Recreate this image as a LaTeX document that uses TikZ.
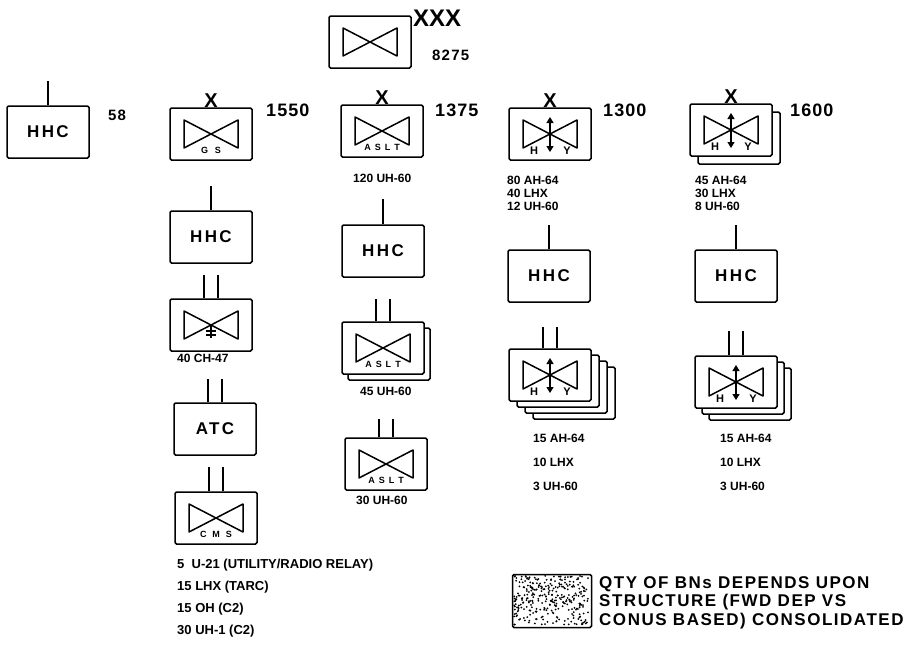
\documentclass[tikz,border=0pt]{standalone}
\usepackage{fontspec}
\setmainfont{Liberation Sans}
\usetikzlibrary{calc,shadows,arrows.meta}

\tikzset{
  unit/.style={draw, line width=1.5pt, rounded corners=1.5pt, fill=white,
    minimum width=82pt, minimum height=52pt, inner sep=0pt,
    font=\bfseries\fontsize{17}{17}\selectfont\addfontfeatures{LetterSpace=14}},
  sheet1/.style={copy shadow={shadow xshift=#1, shadow yshift=-#1, line width=1.5pt}},
  sheet2/.style={copy shadow={shadow xshift=14pt, shadow yshift=-12pt, line width=1.5pt},
    copy shadow={shadow xshift=7pt, shadow yshift=-6pt, line width=1.5pt}},
  sheet3/.style={copy shadow={shadow xshift=24pt, shadow yshift=-18pt, line width=1.5pt},
    copy shadow={shadow xshift=16pt, shadow yshift=-12pt, line width=1.5pt},
    copy shadow={shadow xshift=8pt, shadow yshift=-6pt, line width=1.5pt}},
  link/.style={line width=1.5pt},
  echelon/.style={anchor=south, inner sep=0pt, font=\bfseries\fontsize{20}{20}\selectfont},
  num/.style={anchor=west, inner sep=0pt, font=\bfseries\fontsize{18}{18}\selectfont\addfontfeatures{LetterSpace=6}},
  qty/.style={anchor=north west, inner sep=0pt, align=left, font=\bfseries\fontsize{12}{13}\selectfont},
  letters/.style={inner sep=0pt, font=\bfseries\fontsize{9}{9}\selectfont}
}

% aviation symbol inside a unit box
\newcommand{\avnsym}[1]{%
  \draw[line width=1.5pt, line join=round] ($(#1.center)+(-27,-14)$) -- ($(#1.center)+(27,14)$)
    -- ($(#1.center)+(27,-14)$) -- ($(#1.center)+(-27,14)$) -- cycle;}
% attack symbol
\newcommand{\atksym}[1]{%
  \avnsym{#1}
  \draw[line width=1.3pt, -{Triangle[length=6pt,width=7pt]}] (#1.center) -- ++(0,-17);
  \draw[line width=1.3pt, -{Triangle[length=6pt,width=7pt]}] (#1.center) -- ++(0,18);
  \node[letters, font=\bfseries\fontsize{11}{11}\selectfont] at ($(#1.center)+(-16,17)$) {H};
  \node[letters, font=\bfseries\fontsize{11}{11}\selectfont] at ($(#1.center)+(17,17)$) {Y};}
% twin stub above a unit box
\newcommand{\twin}[2]{%
  \foreach \dx in {-7,7} \draw[link] ($(#1.north)+(\dx,0)$) -- ++(0,-#2);}

\begin{document}
\begin{tikzpicture}[x=1pt,y=-1pt]
    \useasboundingbox (0,0) rectangle (920,645);
    % top: aviation division
    \node[unit] (div) at (370,42) {};
    \avnsym{div}
    \node[num, font=\bfseries\fontsize{24}{24}\selectfont] (divx) at (413,18) {XXX};
    \node[num, font=\bfseries\fontsize{15}{15}\selectfont\addfontfeatures{LetterSpace=8}] (divn) at (432,55) {8275};
    % division HHC
    \node[unit] (hhc) at (48,132) {HHC};
    \draw[link] (hhc.north) -- ++(0,-24);
    \node[num, font=\bfseries\fontsize{15}{15}\selectfont\addfontfeatures{LetterSpace=8}] (hhcn) at (108,115) {58};
    % column 1: general support
    \node[unit] (gs) at (211,134) {};
    \avnsym{gs}
    \node[letters] at ($(gs.center)+(0,16)$) {G\hspace{7pt}S};
    \node[echelon] (gsx) at (gs.north) {X};
    \node[num] (gsn) at (266,110) {1550};
    \node[unit] (hhcgs) at (211,237) {HHC};
    \draw[link] (hhcgs.north) -- ++(0,-24);
    \node[unit] (ch) at (211,325) {};
    \avnsym{ch}
    \draw[line width=1.2pt] (ch.center) -- ++(0,13);
    \draw[line width=1.2pt] ($(ch.center)+(-5,6)$) -- ++(10,0) ($(ch.center)+(-5,10)$) -- ++(10,0);
    \twin{ch}{23}
    \node[qty] (chq) at (177,354) {40 CH-47};
    \node[unit] (atc) at (215,429) {ATC};
    \twin{atc}{23}
    \node[unit] (cms) at (216,518) {};
    \avnsym{cms}
    \node[letters] at ($(cms.center)+(0,16)$) {C\hspace{6pt}M\hspace{6pt}S};
    \twin{cms}{24}
    \node[qty, font=\bfseries\fontsize{13}{22}\selectfont] (cmsq) at (177,559)
      {5 \ U-21 (UTILITY/RADIO RELAY)\\15 LHX (TARC)\\15 OH (C2)\\30 UH-1 (C2)};
    % column 2: assault
    \node[unit] (aslt) at (382,131) {};
    \avnsym{aslt}
    \node[letters] at ($(aslt.center)+(0,16)$) {A\hspace{4pt}S\hspace{4pt}L\hspace{4pt}T};
    \node[echelon] (asltx) at (aslt.north) {X};
    \node[num] (asltn) at (435,110) {1375};
    \node[qty] (asltq) at (353,174) {120 UH-60};
    \node[unit] (hhcas) at (383,251) {HHC};
    \draw[link] (hhcas.north) -- ++(0,-25);
    \node[unit, sheet1=6pt] (aslt2) at (383,348) {};
    \avnsym{aslt2}
    \node[letters] at ($(aslt2.center)+(0,16)$) {A\hspace{4pt}S\hspace{4pt}L\hspace{4pt}T};
    \twin{aslt2}{22}
    \node[qty] (aslt2q) at (360,387) {45 UH-60};
    \node[unit] (aslt3) at (386,464) {};
    \avnsym{aslt3}
    \node[letters] at ($(aslt3.center)+(0,16)$) {A\hspace{4pt}S\hspace{4pt}L\hspace{4pt}T};
    \twin{aslt3}{18}
    \node[qty] (aslt3q) at (356,496) {30 UH-60};
    % column 3: attack
    \node[unit] (atk) at (550,134) {};
    \atksym{atk}
    \node[echelon] (atkx) at (atk.north) {X};
    \node[num] (atkn) at (603,110) {1300};
    \node[qty] (atkq) at (507,176) {80 AH-64\\40 LHX\\12 UH-60};
    \node[unit] (hhcat) at (549,276) {HHC};
    \draw[link] (hhcat.north) -- ++(0,-24);
    \node[unit, sheet3] (atk2) at (550,375) {};
    \atksym{atk2}
    \twin{atk2}{21}
    \node[qty, font=\bfseries\fontsize{12}{24}\selectfont] (atk2q) at (533,434) {15 AH-64\\10 LHX\\3 UH-60};
    % column 4: attack
    \node[unit, sheet1=8pt] (atkb) at (731,130) {};
    \atksym{atkb}
    \node[echelon] (atkbx) at (atkb.north) {X};
    \node[num] (atkbn) at (790,110) {1600};
    \node[qty] (atkbq) at (695,176) {45 AH-64\\30 LHX\\8 UH-60};
    \node[unit] (hhcab) at (736,276) {HHC};
    \draw[link] (hhcab.north) -- ++(0,-24);
    \node[unit, sheet2] (atkb2) at (736,382) {};
    \atksym{atkb2}
    \twin{atkb2}{24}
    \node[qty, font=\bfseries\fontsize{12}{24}\selectfont] (atkb2q) at (720,434) {15 AH-64\\10 LHX\\3 UH-60};
    % legend
    \node[unit, minimum width=79pt, minimum height=53pt] (leg) at (552,601) {};
    \pgfmathsetseed{11}
    \foreach \i in {1,...,320}
      \fill[shift={(leg.north west)}] ({2+rnd*75},{2+rnd*49}) circle (1);
    \node[qty, font=\bfseries\fontsize{17}{18.5}\selectfont\addfontfeatures{LetterSpace=9}] (legq) at (599,576)
      {QTY OF BNs DEPENDS UPON\\STRUCTURE (FWD DEP VS\\CONUS BASED) CONSOLIDATED};
\end{tikzpicture}
\end{document}
